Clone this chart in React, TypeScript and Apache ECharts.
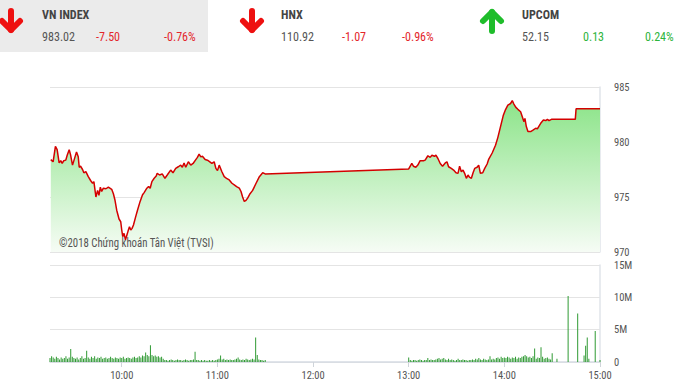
import React, { useEffect, useRef } from "react";
import * as echarts from "echarts";

// ---- Data ----
const priceTimes = [
  "9:15:30","9:16:57","9:18:24","9:19:29","9:20:44","9:21:44","9:22:38","9:23:38","9:24:54","9:25:47",
  "9:27:02","9:27:52","9:29:07","9:30:11","9:31:38","9:32:43","9:33:20","9:34:10","9:35:25","9:36:14",
  "9:37:30","9:39:01","9:40:28","9:41:43","9:42:32","9:43:48","9:44:52","9:45:41","9:46:35","9:47:24",
  "9:48:28","9:50:06","9:51:37","9:53:42","9:54:46","9:55:47","9:56:51","9:58:18","9:59:22","10:00:00",
  "10:00:38","10:01:27","10:02:20","10:03:09","10:03:58","10:04:51","10:05:40","10:06:29","10:07:22","10:08:38",
  "10:09:53","10:11:32","10:13:03","10:14:03","10:15:45","10:16:50","10:17:50","10:18:55","10:20:21","10:21:37",
  "10:22:15","10:23:46","10:25:24","10:27:06","10:28:33","10:30:41","10:32:08","10:33:50","10:35:29","10:36:59",
  "10:38:00","10:39:05","10:40:09","10:41:47","10:43:18","10:44:45","10:46:27","10:47:28","10:48:32","10:49:36",
  "10:50:37","10:52:19","10:53:46","10:55:16","10:56:32","10:57:59","10:59:03","11:00:04","11:01:08","11:02:50",
  "11:04:17","11:05:44","11:07:26","11:09:08","11:10:35","11:12:02","11:13:44","11:14:49","11:15:49","11:16:53",
  "11:17:58","11:18:58","11:20:29","11:22:07","11:24:16","11:26:20","11:28:25","11:30:00",
  "13:00:00","13:01:57","13:02:58","13:04:28","13:05:44","13:07:11","13:09:16","13:10:20","13:12:02","13:13:29",
  "13:14:33","13:16:11","13:17:04","13:18:20","13:19:47","13:21:14","13:22:56","13:24:00","13:25:01","13:26:43",
  "13:28:10","13:29:40","13:30:56","13:31:56","13:33:01","13:34:05","13:35:05","13:36:10","13:37:14","13:38:04",
  "13:39:19","13:40:23","13:41:24","13:42:54","13:43:55","13:44:59","13:46:26","13:47:41","13:49:12","13:50:14",
  "13:52:22","13:54:27","13:55:54","13:57:36","13:59:18","14:00:45","14:02:12","14:03:54","14:04:58","14:05:59",
  "14:07:14","14:08:30","14:10:12","14:11:16","14:12:17","14:12:55","14:13:47","14:14:48","14:16:30","14:18:12",
  "14:19:39","14:20:43","14:21:44","14:22:48","14:24:30","14:25:57","14:27:01","14:28:02","14:29:32","14:44:30",
  "14:45:00","15:00:00"
];
const priceValues = [
  978.4,978.2,979.6,979.3,978.1,978.3,978.05,978.3,978.35,978.8,
  979.3,978.85,977.9,978.4,979.1,978.65,977.7,977.8,977.5,977.2,
  977.3,976.85,976.5,976.25,976.4,975.0,975.6,975.15,975.9,975.5,
  975.8,975.75,975.9,975.7,975.3,974.7,973.8,973.0,972.75,972.0,
  971.4,971.7,971.1,971.5,971.9,972.3,972.0,972.15,972.45,973.15,
  973.8,974.6,975.2,975.4,975.8,975.95,975.8,976.4,976.7,976.9,
  977.15,977.0,977.1,976.7,977.0,977.45,977.2,977.6,977.75,977.9,
  977.7,978.1,977.7,978.2,977.9,978.05,978.4,978.6,978.9,978.65,
  978.7,978.4,978.35,978.2,978.05,978.2,977.6,977.4,977.9,977.3,
  976.85,976.7,976.55,976.25,976.1,975.95,975.8,975.5,975.0,974.6,
  974.7,974.9,975.3,975.6,976.25,976.85,977.2,977.1,
  977.55,978.05,977.8,977.7,977.9,978.3,978.3,978.35,978.75,978.6,
  978.8,978.7,978.8,978.5,978.05,977.8,978.1,978.2,977.75,977.6,
  977.45,977.2,977.15,977.8,977.3,977.45,977.15,976.7,977.0,976.8,
  976.7,977.2,977.6,977.7,977.9,977.15,977.2,977.6,978.0,978.45,
  979.0,979.7,980.4,981.4,982.4,982.95,983.35,983.5,983.76,983.45,
  983.15,982.97,982.75,982.3,981.85,982.15,981.4,980.95,980.95,981.1,
  981.25,981.2,981.45,981.7,982.0,981.95,982.06,981.95,982.06,982.06,
  983.02,983.02
];

// Volume (millions), one bar per minute from 9:15 to 11:30
const volMorningStart = "9:15";
const volMorning = [
  0.6,0.9,0.7,0.5,0.8,0.6,0.4,0.7,0.5,0.6,0.9,0.5,0.7,
  2.0,
  0.8,0.6,0.5,0.7,0.4,0.6,0.9,0.5,0.6,
  1.75,
  0.7,0.5,0.8,0.6,0.9,0.5,0.7,0.6,0.8,0.5,0.6,0.7,0.5,0.6,0.8,0.6,0.5,0.7,0.6,0.5,
  0.7,0.6,0.8,0.5,0.6,0.7,0.6,0.5,0.7,0.8,0.6,0.7,0.9,0.7,1.0,0.9,
  1.45,1.1,0.9,2.6,1.1,0.9,1.0,0.8,0.9,0.7,0.8,0.5,
  0.3,0.3,0.2,0.3,0.4,0.3,0.2,0.3,0.4,0.3,0.3,0.2,0.3,0.4,0.3,0.2,0.3,0.3,0.4,
  1.6,
  0.3,0.3,0.2,0.3,0.2,0.3,0.2,0.2,0.3,0.2,0.3,0.2,0.3,0.4,0.5,
  1.0,
  0.4,0.5,0.3,0.4,0.3,0.4,0.3,0.3,0.4,0.5,0.7,0.4,0.3,0.4,0.3,0.5,0.4,0.3,0.4,0.5,0.4,
  3.8,1.1,0.4,0.3,0.3,0.2,0.3
];
// one bar per minute from 13:00 to 14:30
const volAfternoonStart = "13:00";
const volAfternoon = [
  0.7,
  0.3,0.2,0.3,0.3,0.2,0.3,0.4,0.3,0.2,0.3,0.3,
  0.6,
  0.3,0.4,0.3,0.3,0.4,0.5,0.6,0.4,0.5,0.6,0.4,0.3,0.5,0.3,0.4,0.3,0.2,0.3,
  0.5,0.3,0.3,0.4,0.3,0.3,0.2,0.3,0.3,0.4,0.3,0.5,0.4,0.6,0.4,0.3,0.5,0.4,0.3,0.4,
  0.9,
  0.4,0.5,0.4,0.6,0.7,0.5,0.8,0.6,0.7,0.6,0.8,0.7,0.5,0.7,0.6,0.8,0.5,0.7,0.6,0.8,0.9,
  1.1,0.9,0.7,0.8,0.6,0.9,2.1,0.5,0.7,0.6,2.3,0.8,0.5,0.6,0.7,0.5,0.4,1.35
];
const volLateTimes = ["14:33","14:40","14:46","14:50","14:51","14:52","14:53","14:57","15:00"];
const volLateValues = [0.5,10.2,7.5,1.0,2.5,3.8,0.5,4.8,0.3];

const timeTicks = ["10:00","11:00","12:00","13:00","14:00","15:00"];
const priceTicks = [970, 975, 980, 985];
const volTicks = [0, 5, 10, 15];

const header = [
  { name: "VN INDEX", value: "983.02", change: "-7.50", pct: "-0.76%", up: false },
  { name: "HNX", value: "110.92", change: "-1.07", pct: "-0.96%", up: false },
  { name: "UPCOM", value: "52.15", change: "0.13", pct: "0.24%", up: true },
];

function toMin(t: string): number {
  const p = t.split(":").map(Number);
  return p[0] * 60 + p[1] + (p[2] || 0) / 60;
}

const FONT = "'Roboto Condensed', 'Liberation Sans Narrow', 'Roboto', sans-serif";

export default function App() {
  const ref = useRef<HTMLDivElement>(null);
  useEffect(() => {
    document.body.style.margin = "0";
    if (!ref.current) return;
    const chart = echarts.init(ref.current, null, { renderer: "svg" });

    const priceData = priceTimes.map((t, i) => [toMin(t), priceValues[i]]);
    const volData: number[][] = [];
    const m0 = toMin(volMorningStart);
    volMorning.forEach((v, i) => volData.push([m0 + i, v]));
    const a0 = toMin(volAfternoonStart);
    volAfternoon.forEach((v, i) => volData.push([a0 + i, v]));
    volLateTimes.forEach((t, i) => volData.push([toMin(t), volLateValues[i]]));

    const tickMins = timeTicks.map(toMin);
    const fmtTime = (v: number) => {
      const h = Math.floor(v / 60);
      const m = Math.round(v - h * 60);
      return h + ":" + (m < 10 ? "0" + m : m);
    };

    const cols = [[42, 96, 164], [281, 342, 402], [522, 583, 645]];
    const arrowCx = [11, 252, 492];
    const SX = 0.93;

    const graphics: any[] = [
      { type: "rect", shape: { x: 0, y: 0, width: 208, height: 52 }, style: { fill: "#ebebeb" }, z: -1 },
    ];
    header.forEach((h, i) => {
      const c = cols[i];
      const col = h.up ? "#2db43c" : "#e3262b";
      const cx = arrowCx[i];
      const y0 = 9, y1 = 33;
      const ac = h.up ? "#1fbd2b" : "#ee1010";
      if (h.up) {
        graphics.push({ type: "polyline", shape: { points: [[cx, y1 - 2], [cx, y0 + 3]] }, style: { stroke: ac, lineWidth: 6, lineCap: "round", fill: null } });
        graphics.push({ type: "polyline", shape: { points: [[cx - 9, y0 + 12], [cx, y0 + 3], [cx + 9, y0 + 12]] }, style: { stroke: ac, lineWidth: 6, lineCap: "round", lineJoin: "round", fill: null } });
      } else {
        graphics.push({ type: "polyline", shape: { points: [[cx, y0 + 2], [cx, y1 - 3]] }, style: { stroke: ac, lineWidth: 6, lineCap: "round", fill: null } });
        graphics.push({ type: "polyline", shape: { points: [[cx - 9, y1 - 12], [cx, y1 - 3], [cx + 9, y1 - 12]] }, style: { stroke: ac, lineWidth: 6, lineCap: "round", lineJoin: "round", fill: null } });
      }
      graphics.push({ type: "text", x: c[0], y: 14, scaleX: SX, style: { text: h.name, fill: "#444", font: "bold 13px " + FONT, verticalAlign: "middle" } });
      graphics.push({ type: "text", x: c[0], y: 36, scaleX: SX, style: { text: h.value, fill: "#555", font: "13px " + FONT, verticalAlign: "middle" } });
      graphics.push({ type: "text", x: c[1], y: 36, scaleX: SX, style: { text: h.change, fill: col, font: "13px " + FONT, verticalAlign: "middle" } });
      graphics.push({ type: "text", x: c[2], y: 36, scaleX: SX, style: { text: h.pct, fill: col, font: "13px " + FONT, verticalAlign: "middle" } });
    });
    graphics.push({
      type: "text", x: 59, y: 243, scaleX: 0.9,
      style: { text: "©2018 Chứng khoán Tân Việt (TVSI)", fill: "#555", font: "12px " + FONT, verticalAlign: "middle" },
      z: 10,
    });

    chart.setOption({
      animation: false,
      textStyle: { fontFamily: FONT },
      grid: [
        { left: 50, right: 87, top: 87, height: 165 },
        { left: 50, right: 87, top: 265, height: 97 },
      ],
      xAxis: [
        { type: "value", gridIndex: 0, min: 555, max: 900, show: false },
        {
          type: "value", gridIndex: 1, min: 555, max: 900,
          axisLine: { show: true, lineStyle: { color: "#d6dbe3", width: 1.5 } },
          axisTick: { show: true, customValues: tickMins, length: 5, lineStyle: { color: "#cfd4da" } },
          axisLabel: { customValues: tickMins, formatter: fmtTime, color: "#555", fontSize: 10.5, margin: 8, fontFamily: FONT },
          splitLine: { show: false },
        },
      ],
      yAxis: [
        {
          type: "value", gridIndex: 0, position: "right", min: priceTicks[0], max: priceTicks[priceTicks.length - 1], interval: 5,
          axisLine: { show: true, lineStyle: { color: "#e0e4ea", width: 1.5 } },
          axisTick: { show: false },
          axisLabel: { color: "#555", fontSize: 10.5, margin: 14, fontFamily: FONT },
          splitLine: { show: true, lineStyle: { color: "#e4e4e4" } },
        },
        {
          type: "value", gridIndex: 1, position: "right", min: volTicks[0], max: volTicks[volTicks.length - 1], interval: 5,
          axisLine: { show: true, lineStyle: { color: "#e0e4ea", width: 1.5 } },
          axisTick: { show: false },
          axisLabel: { color: "#555", fontSize: 10.5, margin: 14, fontFamily: FONT, formatter: (v: number) => (v === 0 ? "0" : v + "M") },
          splitLine: { show: true, lineStyle: { color: "#e4e4e4" } },
        },
      ],
      series: [
        {
          type: "line", xAxisIndex: 0, yAxisIndex: 0, data: priceData, symbol: "none",
          lineStyle: { color: "#d40000", width: 1.5 },
          areaStyle: {
            color: new echarts.graphic.LinearGradient(0, 0, 0, 1, [
              { offset: 0, color: "#8ce489" },
              { offset: 1, color: "#f6fcf5" },
            ]),
            opacity: 1,
          },
          z: 3,
        },
        {
          type: "bar", xAxisIndex: 1, yAxisIndex: 1, data: volData, barWidth: 1,
          itemStyle: { color: "#2f9a33" },
        },
      ],
      graphic: graphics,
    });
    return () => chart.dispose();
  }, []);
  return <div ref={ref} style={{ width: 687, height: 391 }} />;
}
